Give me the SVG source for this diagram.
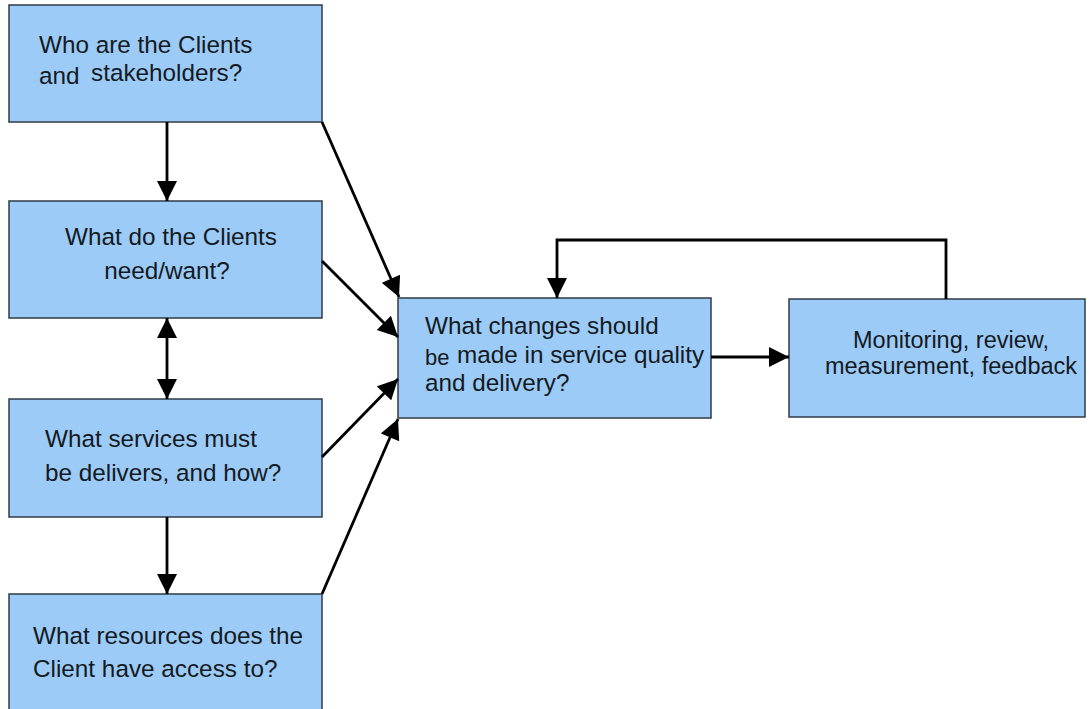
<svg xmlns="http://www.w3.org/2000/svg" width="1090" height="709" viewBox="0 0 1090 709">
<defs>
<style>
.box{fill:#9ccbf7;stroke:#2f3b46;stroke-width:1.5}
.t{font-family:"Liberation Sans",Arial,sans-serif;font-size:24.3px;fill:#141a22}
.c{stroke:#000;stroke-width:2.8;fill:none}
</style>
<marker id="a" viewBox="0 0 12 12" refX="12" refY="6" markerWidth="21" markerHeight="20" markerUnits="userSpaceOnUse" orient="auto-start-reverse">
<path d="M0,0 L12,6 L0,12 z" fill="#000"/>
</marker>
</defs>
<rect width="1090" height="709" fill="#fff"/>
<g id="n1"><rect class="box" x="9" y="5" width="313" height="117"/>
<text class="t" x="39" y="53">Who are the Clients</text><text class="t" y="84"><tspan x="39">and</tspan><tspan x="91" y="81">stakeholders?</tspan></text></g>
<g id="n2"><rect class="box" x="9" y="201" width="313" height="117"/>
<text class="t" x="171" y="245" text-anchor="middle">What do the Clients</text><text class="t" x="167" y="279" text-anchor="middle">need/want?</text></g>
<g id="n3"><rect class="box" x="9" y="399" width="313" height="118"/>
<text class="t" x="45" y="447">What services must</text><text class="t" x="45" y="481">be delivers, and how?</text></g>
<g id="n4"><rect class="box" x="9" y="594" width="313" height="120"/>
<text class="t" x="33" y="644">What resources does the</text><text class="t" x="33" y="677">Client have access to?</text></g>
<g id="n5"><rect class="box" x="398" y="298" width="313" height="120"/>
<text class="t" x="425" y="334">What changes should</text><text class="t" y="365"><tspan x="425" font-size="22">be</tspan><tspan x="457" y="363">made in service quality</tspan></text><text class="t" x="425" y="391">and delivery?</text></g>
<g id="n6"><rect class="box" x="789" y="299" width="296" height="118"/>
<text class="t" x="951" y="348" text-anchor="middle" style="font-size:23.5px">Monitoring, review,</text><text class="t" x="951" y="374" text-anchor="middle" style="font-size:23.5px">measurement, feedback</text></g>
<g id="connectors">
<line class="c" x1="167" y1="122" x2="167" y2="201" marker-end="url(#a)"/>
<line class="c" x1="322" y1="122" x2="399" y2="297" marker-end="url(#a)"/>
<line class="c" x1="322" y1="261" x2="398" y2="337" marker-end="url(#a)"/>
<line class="c" x1="167" y1="318" x2="167" y2="399" marker-start="url(#a)" marker-end="url(#a)"/>
<line class="c" x1="322" y1="457" x2="398" y2="379" marker-end="url(#a)"/>
<line class="c" x1="167" y1="517" x2="167" y2="594" marker-end="url(#a)"/>
<line class="c" x1="322" y1="594" x2="398" y2="419" marker-end="url(#a)"/>
<line class="c" x1="711" y1="357" x2="789" y2="357" marker-end="url(#a)"/>
<polyline class="c" points="946,299 946,240 557,240 557,298" marker-end="url(#a)"/>
</g>
</svg>
